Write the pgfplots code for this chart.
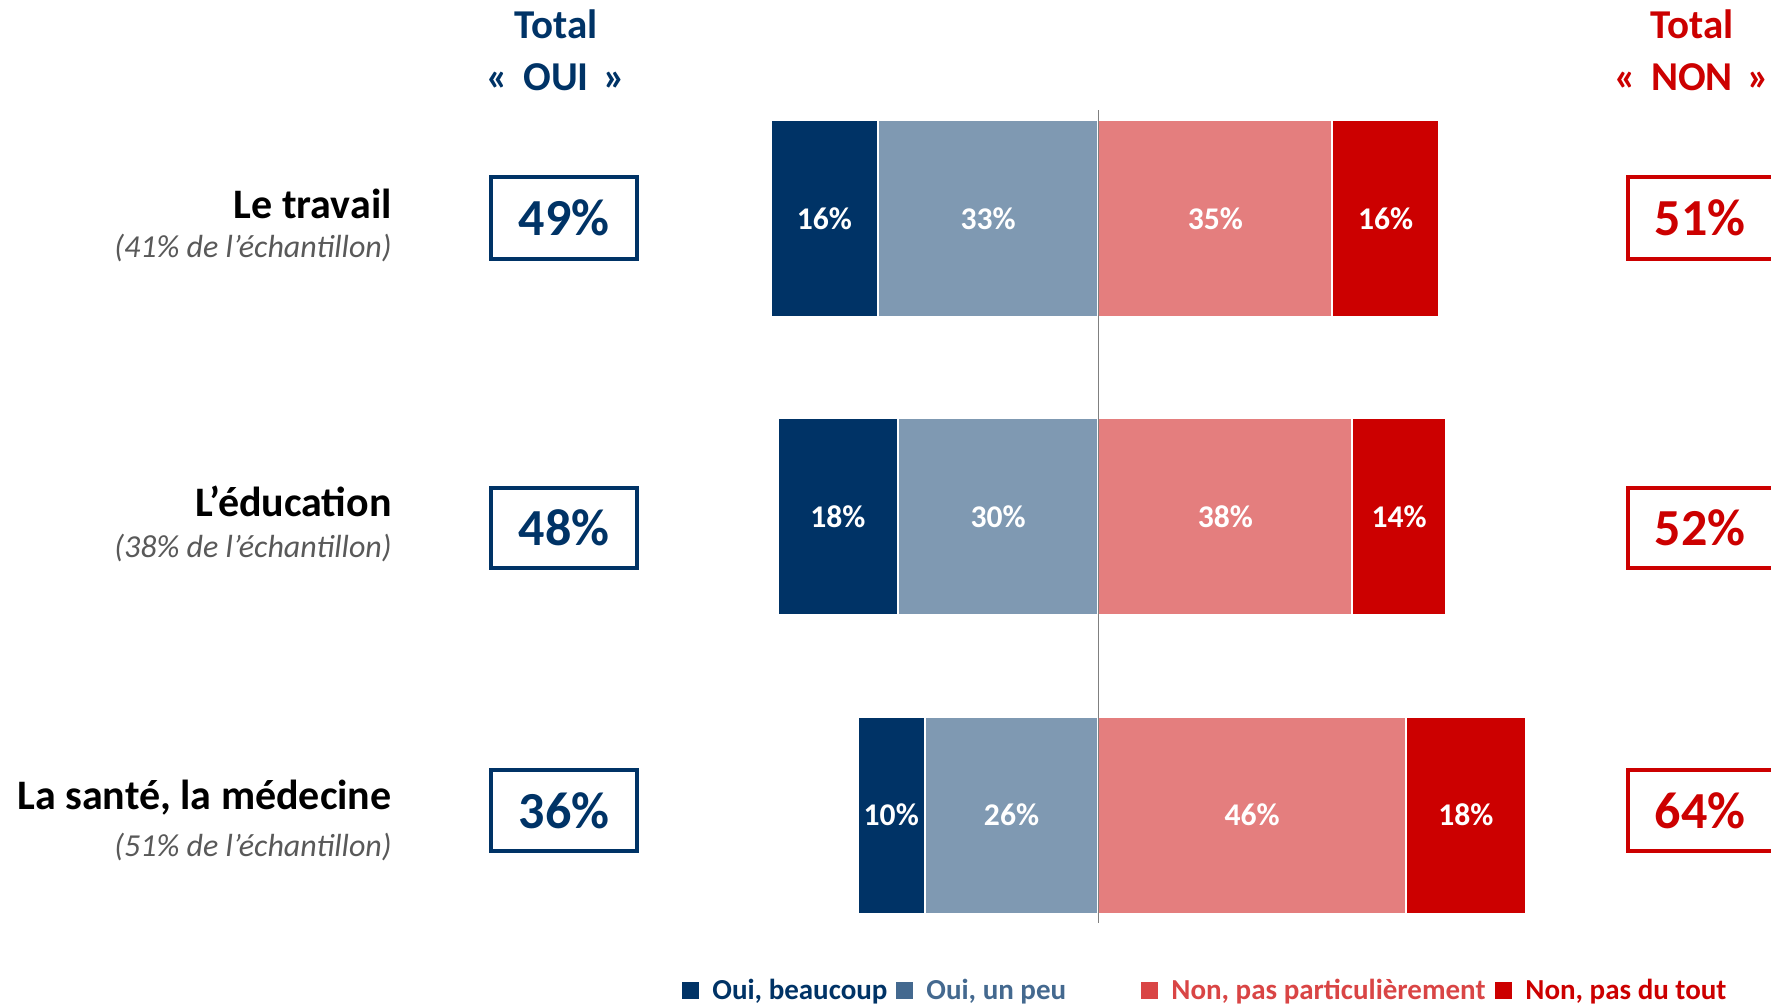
\documentclass[border=0pt]{standalone}
\usepackage{pgfplots}
\pgfplotsset{compat=1.18}
\usepackage{pgfplotstable}
\usepackage{fontspec}
\setmainfont{Carlito}

\definecolor{ouibc}{HTML}{003366}
\definecolor{ouipeu}{HTML}{7F99B2}
\definecolor{nonpart}{HTML}{E47E7E}
\definecolor{nontout}{HTML}{CC0000}
\definecolor{legpeu}{HTML}{44698F}
\definecolor{legpart}{HTML}{D94545}
\definecolor{subgray}{HTML}{595959}
\definecolor{zeroline}{HTML}{808080}

% ob = Oui, beaucoup ; op = Oui, un peu ; np = Non, pas particulierement ; nt = Non, pas du tout
\pgfplotstableread{
row ob op np nt
0 16 33 35 16
1 18 30 38 14
2 10 26 46 18
}\sondage

\begin{document}
\begin{tikzpicture}
\useasboundingbox (0,0) rectangle (885.5pt,-501.5pt);
\begin{axis}[
  at={(599.3pt,-258.25pt)}, anchor=center,
  width=367.5pt, height=406.5pt, scale only axis,
  xmin=-40, xmax=70, ymin=-0.3638, ymax=2.3621, y dir=reverse,
  hide axis, clip=false,
  bar width=0.6605,
  barlab/.style={draw=none, point meta=explicit symbolic,
    nodes near coords={\pgfplotspointmeta\%},
    nodes near coords align={center},
    every node near coord/.append style={anchor=center, text=white,
      font=\fontsize{15.8}{18}\selectfont\bfseries}},
]
% bars: totals first, inner segments drawn over them
\addplot[xbar, bar shift=0pt, fill=ouibc, draw=white, line width=1pt]
  table[x expr={-(\thisrow{ob}+\thisrow{op})}, y=row] {\sondage};
\addplot[xbar, bar shift=0pt, fill=ouipeu, draw=white, line width=1pt]
  table[x expr={-\thisrow{op}}, y=row] {\sondage};
\addplot[xbar, bar shift=0pt, fill=nontout, draw=white, line width=1pt]
  table[x expr={\thisrow{np}+\thisrow{nt}}, y=row] {\sondage};
\addplot[xbar, bar shift=0pt, fill=nonpart, draw=white, line width=1pt]
  table[x expr={\thisrow{np}}, y=row] {\sondage};
% segment labels at segment midpoints
\addplot[barlab] table[x expr={-(\thisrow{op}+0.5*\thisrow{ob})}, y=row, meta=ob] {\sondage};
\addplot[barlab] table[x expr={-0.5*\thisrow{op}}, y=row, meta=op] {\sondage};
\addplot[barlab] table[x expr={0.5*\thisrow{np}}, y=row, meta=np] {\sondage};
\addplot[barlab] table[x expr={\thisrow{np}+0.5*\thisrow{nt}}, y=row, meta=nt] {\sondage};
\draw[zeroline, line width=0.7pt] (axis cs:0,-0.3638) -- (axis cs:0,2.3621);
\end{axis}

\begin{scope}[x=0.5pt, y=-0.5pt, inner sep=0pt]
% column headers
\node[font=\fontsize{20.5}{24}\selectfont\bfseries, text=ouibc, anchor=base] at (556,38) {Total};
\node[font=\fontsize{20.5}{24}\selectfont\bfseries, text=ouibc, anchor=base] at (556,90) {«\hspace{0.35em}OUI\hspace{0.35em}»};
\node[font=\fontsize{20.5}{24}\selectfont\bfseries, text=nontout, anchor=base] at (1692,38) {Total};
\node[font=\fontsize{20.5}{24}\selectfont\bfseries, text=nontout, anchor=base] at (1692,90) {«\hspace{0.35em}NON\hspace{0.35em}»};
% row labels
\node[font=\fontsize{21}{25}\selectfont\bfseries, anchor=base east] at (392,218) {Le travail};
\node[font=\fontsize{16}{19}\selectfont\itshape, text=subgray, anchor=east] at (392,248) {(41\% de l’échantillon)};
\node[font=\fontsize{21}{25}\selectfont\bfseries, anchor=base east] at (392,516) {L’éducation};
\node[font=\fontsize{16}{19}\selectfont\itshape, text=subgray, anchor=east] at (392,548) {(38\% de l’échantillon)};
\node[font=\fontsize{21}{25}\selectfont\bfseries, anchor=base east] at (392,809) {La santé, la médecine};
\node[font=\fontsize{16}{19}\selectfont\itshape, text=subgray, anchor=east] at (392,847) {(51\% de l’échantillon)};
% total boxes
\foreach \ya/\yb/\oui/\non in {177/259/49/51, 488/568/48/52, 770/851/36/64} {
  \draw[ouibc, line width=1.8pt] (491,\ya) rectangle (637,\yb);
  \node[font=\fontsize{26}{30}\selectfont\bfseries, text=ouibc] at (564,{(\ya+\yb)/2}) {\oui\%};
  \draw[nontout, line width=1.8pt] (1628,\ya) rectangle (1774,\yb);
  \node[font=\fontsize{26}{30}\selectfont\bfseries, text=nontout] at (1700,{(\ya+\yb)/2}) {\non\%};
}
% legend
\node[font=\fontsize{14.5}{17}\selectfont\bfseries, text=ouibc, anchor=base west] at (682,999)
  {\rule{8.5pt}{8.5pt}\hspace{6.5pt}Oui, beaucoup};
\node[font=\fontsize{14.5}{17}\selectfont\bfseries, text=legpeu, anchor=base west] at (896,999)
  {\rule{8.5pt}{8.5pt}\hspace{6.5pt}Oui, un peu};
\node[font=\fontsize{14.5}{17}\selectfont\bfseries, text=legpart, anchor=base west] at (1141,999)
  {\rule{8.5pt}{8.5pt}\hspace{6.5pt}Non, pas particulièrement};
\node[font=\fontsize{14.5}{17}\selectfont\bfseries, text=nontout, anchor=base west] at (1495,999)
  {\rule{8.5pt}{8.5pt}\hspace{6.5pt}Non, pas du tout};
\end{scope}
\end{tikzpicture}
\end{document}
